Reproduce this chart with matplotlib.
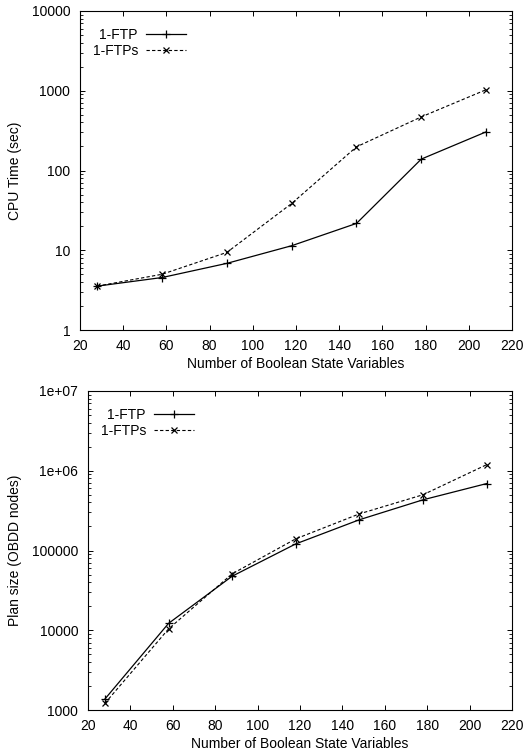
import matplotlib
matplotlib.use("Agg")
import matplotlib.pyplot as plt
from matplotlib.ticker import FuncFormatter, LogLocator, MultipleLocator, NullFormatter

plt.rcParams['font.family'] = ['Liberation Sans', 'DejaVu Sans']

x_vars = [28, 58, 88, 118, 148, 178, 208]
cpu_ftp = [3.55, 4.55, 6.85, 11.4, 21.7, 139, 305]
cpu_ftps = [3.55, 5.0, 9.4, 38.6, 198, 470, 1030]
size_ftp = [1375, 12200, 47600, 121000, 243000, 432000, 690000]
size_ftps = [1215, 10400, 51000, 140000, 288000, 500000, 1190000]
labels = ['1-FTP', '1-FTPs']
xlabel = 'Number of Boolean State Variables'

W, H = 527, 755
fig = plt.figure(figsize=(W / 100, H / 100), dpi=100)

def make_ax(left, right, top, bottom):
    return fig.add_axes([left / W, 1 - bottom / H, (right - left) / W, (bottom - top) / H])

ax1 = make_ax(80, 512, 11, 330)
ax2 = make_ax(88, 512, 391, 710)

fs = 10

def style(ax, ylo, yhi, ylabel, yl_x):
    ax.set_yscale('log')
    ax.set_xlim(20, 220)
    ax.set_ylim(ylo, yhi)
    ax.xaxis.set_major_locator(MultipleLocator(20))
    ax.yaxis.set_major_locator(LogLocator(base=10, numticks=20))
    ax.yaxis.set_minor_locator(LogLocator(base=10, subs=range(2, 10), numticks=20))
    ax.yaxis.set_minor_formatter(NullFormatter())
    ax.yaxis.set_major_formatter(FuncFormatter(lambda v, p: '%g' % v))
    ax.tick_params(which='major', direction='in', length=3.8, width=0.7, top=True, right=True,
                   labelsize=fs)
    ax.tick_params(axis='x', which='major', pad=6.5)
    ax.tick_params(axis='y', which='major', pad=7)
    ax.tick_params(which='minor', direction='in', length=2, width=0.6, top=True, right=True)
    for s in ax.spines.values():
        s.set_linewidth(0.8)
    ax.set_xlabel(xlabel, fontsize=fs, labelpad=3)
    ax.set_ylabel(ylabel, fontsize=fs)
    ax.yaxis.set_label_coords(yl_x, 0.5)

l1, = ax1.plot(x_vars, cpu_ftp, '-', color='black', lw=0.9, marker='+', ms=6, mew=0.9)
l2, = ax1.plot(x_vars, cpu_ftps, '--', color='black', lw=0.8, marker='x', ms=5, mew=0.9,
               dashes=(3, 2))
style(ax1, 1, 10000, 'CPU Time (sec)', -0.134)

m1, = ax2.plot(x_vars, size_ftp, '-', color='black', lw=0.9, marker='+', ms=6, mew=0.9)
m2, = ax2.plot(x_vars, size_ftps, '--', color='black', lw=0.8, marker='x', ms=5, mew=0.9,
               dashes=(3, 2))
style(ax2, 1000, 1e7, 'Plan size (OBDD nodes)', -0.156)

for ax, hs in ((ax1, (l1, l2)), (ax2, (m1, m2))):
    ax.legend(hs, labels, loc='upper left', bbox_to_anchor=(0.0, 0.985), frameon=False,
              markerfirst=False, numpoints=1, handlelength=2.9, handletextpad=0.6,
              labelspacing=0.1, fontsize=fs, borderaxespad=0.5)

fig.savefig('out.png', dpi=100)
